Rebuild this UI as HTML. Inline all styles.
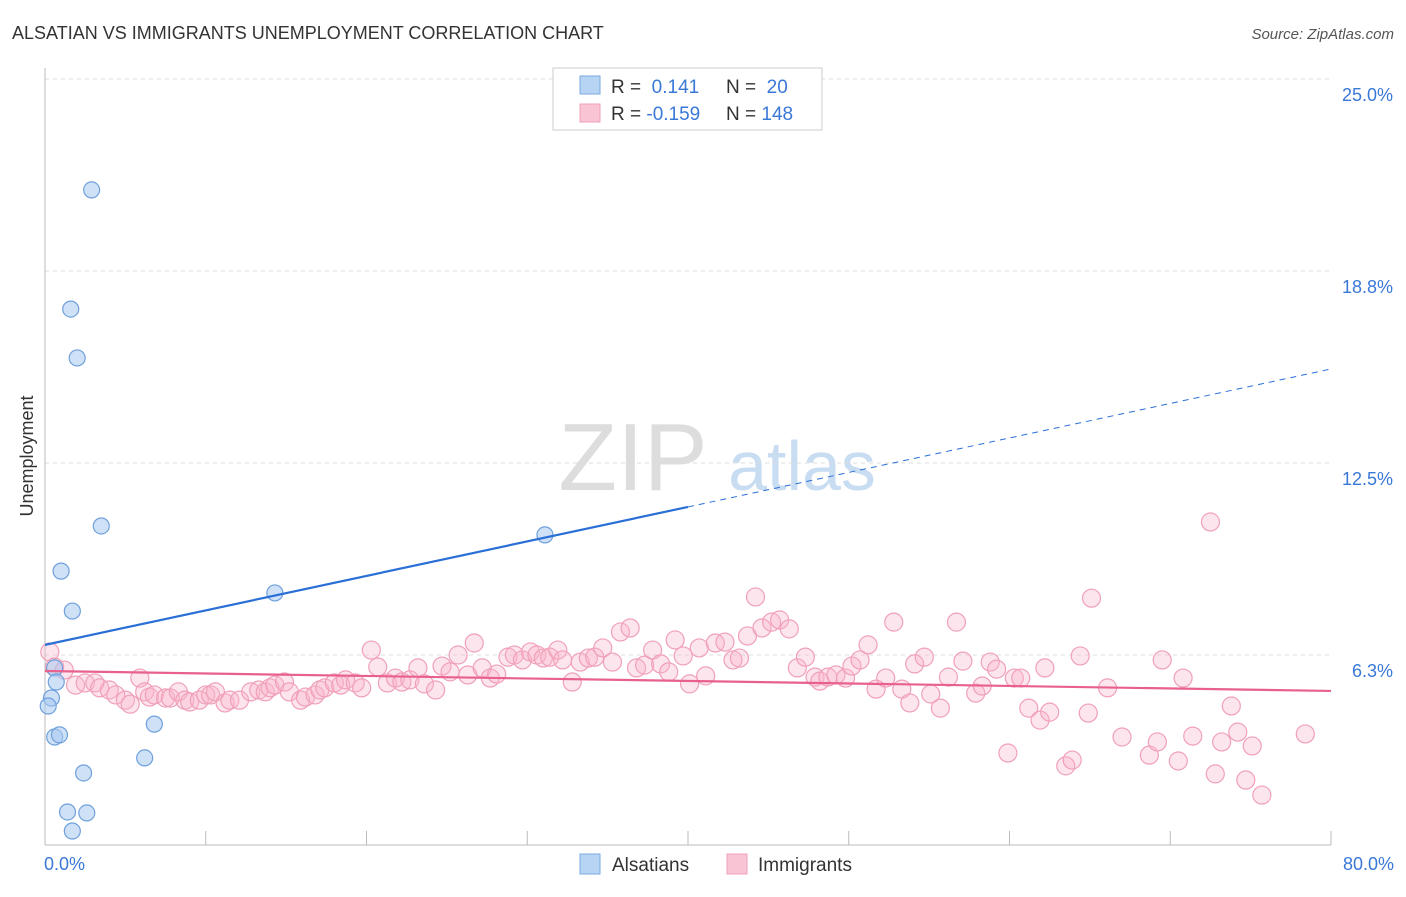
<!DOCTYPE html>
<html><head><meta charset="utf-8"><style>
body{margin:0;background:#fff;font-family:"Liberation Sans",sans-serif;}
svg text{font-family:"Liberation Sans",sans-serif;}
</style></head><body>
<svg id="chart" width="1406" height="892" xmlns="http://www.w3.org/2000/svg">
<text x="12" y="39" font-size="18" fill="#333">ALSATIAN VS IMMIGRANTS UNEMPLOYMENT CORRELATION CHART</text>
<text x="1394" y="39" font-size="15" fill="#555" text-anchor="end" font-style="italic">Source: ZipAtlas.com</text>
<text transform="translate(33,456) rotate(-90)" font-size="18" fill="#333" text-anchor="middle">Unemployment</text>
<g>
<text x="633" y="490" font-size="96" fill="#ddd" text-anchor="middle" font-family="Liberation Serif,serif">ZIP</text>
<text x="802" y="490" font-size="70" fill="#c8dcf2" text-anchor="middle">atlas</text>
</g>
<g id="grid"></g>
<g id="axes"></g>
<g id="pts"></g>
<g id="lines"></g>
<g>
<rect x="553" y="68" width="269" height="62" fill="#fff" stroke="#ccc"/>
<rect x="580" y="76" width="20" height="18" fill="#b8d4f4" stroke="#7aaae0"/>
<rect x="580" y="104" width="20" height="18" fill="#f9c4d4" stroke="#f0a0b8"/>
<text x="611" y="93" font-size="19" fill="#333">R =  <tspan fill="#3a78d8">&#160;0.141</tspan></text>
<text x="726" y="93" font-size="19" fill="#333">N =  <tspan fill="#3a78d8">&#160;20</tspan></text>
<text x="611" y="120" font-size="19" fill="#333">R = <tspan fill="#3a78d8">-0.159</tspan></text>
<text x="726" y="120" font-size="19" fill="#333">N = <tspan fill="#3a78d8">148</tspan></text>
</g>
<g>
<rect x="580" y="854" width="20" height="20" fill="#b8d4f4" stroke="#7aaae0"/>
<text x="612" y="871" font-size="19" fill="#333">Alsatians</text>
<rect x="727" y="854" width="20" height="20" fill="#f9c4d4" stroke="#f0a0b8"/>
<text x="758" y="871" font-size="19" fill="#333">Immigrants</text>
</g>
</svg>
<script>
const yTicks=[6.25,12.5,18.75,25];
const yTickLabels=["6.3%","12.5%","18.8%","25.0%"];
const xTickVals=[0,10,20,30,40,50,60,70,80];
const blueX=[2.9,1.6,2.0,3.5,1.0,1.7,0.6,0.7,0.4,0.2,0.6,0.9,2.4,6.2,6.8,1.4,2.6,1.7,14.3,31.1];
const blueY=[21.39,17.51,15.92,10.45,8.98,7.68,5.83,5.37,4.85,4.59,3.58,3.65,2.41,2.90,4.00,1.14,1.11,0.52,8.27,10.16];
const pinkX=[0.3,0.6,1.2,1.9,2.5,3.1,3.4,4.0,4.4,5.0,5.3,5.9,6.2,6.5,6.8,7.5,7.8,8.3,8.7,9.0,9.6,10.0,10.3,10.6,11.2,11.5,12.1,12.8,13.3,13.7,14.0,14.3,14.9,15.2,15.9,16.2,16.8,17.1,17.4,18.0,18.4,18.7,19.3,19.7,20.3,20.7,21.3,21.8,22.2,22.7,23.2,23.6,24.3,24.7,25.2,25.7,26.3,26.7,27.2,27.7,28.1,28.8,29.2,29.7,30.2,30.6,31.0,31.4,31.9,32.2,32.8,33.3,33.8,34.2,34.7,35.3,35.8,36.4,36.8,37.3,37.8,38.3,38.8,39.2,39.7,40.1,40.7,41.1,41.7,42.3,42.8,43.2,43.7,44.2,44.6,45.2,45.7,46.3,46.8,47.3,47.9,48.2,48.7,49.2,49.8,50.2,50.7,51.2,51.7,52.3,52.8,53.3,53.8,54.1,54.7,55.1,55.7,56.2,56.7,57.1,57.9,58.3,58.8,59.2,59.9,60.3,60.7,61.2,61.9,62.2,62.5,63.5,63.9,64.4,64.9,65.1,66.1,67.0,68.7,69.2,69.5,70.5,70.8,71.4,72.5,72.8,73.2,73.8,74.2,74.7,75.1,75.7,78.4];
const pinkY=[6.35,5.86,5.76,5.27,5.34,5.34,5.18,5.11,4.95,4.78,4.65,5.50,5.05,4.88,4.95,4.85,4.85,5.05,4.78,4.72,4.78,4.95,4.95,5.05,4.69,4.78,4.78,5.05,5.11,5.05,5.18,5.27,5.37,5.05,4.78,4.88,4.95,5.11,5.18,5.34,5.27,5.44,5.34,5.18,6.41,5.86,5.34,5.50,5.37,5.44,5.83,5.31,5.11,5.89,5.70,6.25,5.60,6.64,5.83,5.50,5.63,6.18,6.25,6.09,6.35,6.25,6.15,6.18,6.41,6.09,5.37,6.02,6.15,6.18,6.48,6.02,7.00,7.13,5.83,5.92,6.41,5.96,5.70,6.74,6.22,5.31,6.48,5.57,6.64,6.67,6.09,6.15,6.87,8.14,7.13,7.32,7.39,7.10,5.83,6.18,5.53,5.40,5.53,5.60,5.50,5.89,6.09,6.58,5.14,5.50,7.32,5.14,4.69,5.96,6.18,4.98,4.52,5.53,7.32,6.05,5.01,5.24,6.02,5.79,3.06,5.50,5.50,4.52,4.13,5.83,4.39,2.64,2.83,6.22,4.36,8.10,5.18,3.58,2.99,3.42,6.09,2.80,5.50,3.61,10.58,2.38,3.42,4.59,3.74,2.18,3.29,1.69,3.68];
const blueTrend=[6.58,15.56];
const pinkTrend=[5.73,5.08];
const NS="http://www.w3.org/2000/svg";
const X0=45,X1=1331,YB=847;
const xs=v=>X0+v*(X1-X0)/80;
const ys=v=>YB-v*30.72;
function mk(tag,attrs,parent){const e=document.createElementNS(NS,tag);for(const k in attrs)e.setAttribute(k,attrs[k]);document.getElementById(parent).appendChild(e);return e;}
yTicks.forEach((t,i)=>{
 const l=mk('line',{x1:X0,x2:X1,y1:ys(t),y2:ys(t),stroke:'#ddd','stroke-dasharray':'4,4'},'grid');
 
 
 const tx=mk('text',{x:1393,y:ys(t)+22,'font-size':18,fill:'#3a78d8','text-anchor':'end'},'axes');
 tx.textContent=yTickLabels[i];
 
 
});
const ax=mk('line',{x1:X0,x2:X0,y1:68,y2:845,stroke:'#bbb'},'axes');


const bx=mk('line',{x1:X0,x2:X1,y1:845,y2:845,stroke:'#bbb'},'axes');


xTickVals.forEach(v=>{
 const t=mk('line',{x1:xs(v),x2:xs(v),y1:831,y2:845,stroke:'#bbb'},'axes');
 
 
});
const xl0=mk('text',{x:44,y:870,'font-size':18,fill:'#3a78d8'},'axes');xl0.textContent='0.0%';


const xl1=mk('text',{x:1394,y:870,'font-size':18,fill:'#3a78d8','text-anchor':'end'},'axes');xl1.textContent='80.0%';


pinkX.forEach((x,i)=>{
 const c=mk('circle',{cx:xs(x),cy:ys(pinkY[i]),r:9,fill:'rgba(248,180,202,0.35)',stroke:'#f0a0b8','stroke-width':1.2},'pts');
 
 
});
blueX.forEach((x,i)=>{
 const c=mk('circle',{cx:xs(x),cy:ys(blueY[i]),r:8,fill:'rgba(165,200,240,0.55)',stroke:'#6fa0dc','stroke-width':1.2},'pts');
 
 
});
const bAt=v=>blueTrend[0]+(blueTrend[1]-blueTrend[0])*v/80;
const l1=mk('line',{x1:xs(0),y1:ys(bAt(0)),x2:xs(40),y2:ys(bAt(40)),stroke:'#2a6fd6','stroke-width':2.2},'lines');


const l2=mk('line',{x1:xs(40),y1:ys(bAt(40)),x2:xs(80),y2:ys(bAt(80)),stroke:'#2a6fd6','stroke-width':1,'stroke-dasharray':'6,5'},'lines');


const l3=mk('line',{x1:xs(0),y1:ys(pinkTrend[0]),x2:xs(80),y2:ys(pinkTrend[1]),stroke:'#e8608e','stroke-width':2.2},'lines');


</script>
</body></html>
